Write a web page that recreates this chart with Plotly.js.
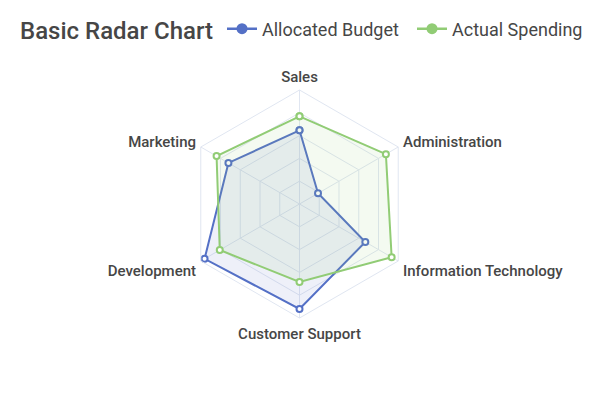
<!DOCTYPE html>
<html><head><meta charset="utf-8">
<script src="https://cdn.plot.ly/plotly-3.0.1.min.js"></script>
<style>body{margin:0}#c{width:600px;height:400px}</style>
</head><body><div id="c"></div>
<script>
const indicators = ['Sales','Administration','Information Technology','Customer Support','Development','Marketing'];
const maxValues = [6500, 16000, 30000, 38000, 52000, 25000];
const allocated = [4200, 3000, 20000, 35000, 50000, 18000];
const actual = [5000, 14000, 28000, 26000, 42000, 21000];
const seriesNames = ['Allocated Budget', 'Actual Spending'];
const colors = ['#5470c6', '#91cc75'];
const fills = ['rgba(84,112,198,0.1)', 'rgba(145,204,117,0.1)'];

function norm(v){ return v.map((x,i)=>x/maxValues[i]); }
function closed(a){ return a.concat([a[0]]); }

const traces = [];
[allocated, actual].forEach((d, k) => {
  traces.push({
    type:'scatterpolar', r: closed(norm(d)), theta: closed(indicators),
    mode:'lines+markers', fill:'toself', fillcolor: fills[k],
    line:{color:colors[k], width:2},
    marker:{symbol:'circle', size:6, color:'#fff', line:{color:colors[k], width:2}},
    name: seriesNames[k], showlegend:false, hoverinfo:'skip'
  });
});
[0,1].forEach(k => {
  traces.push({
    type:'scatterpolar', r:[null], theta:[indicators[0]],
    mode:'lines+markers', line:{color:colors[k], width:2.5},
    marker:{symbol:'circle', size:11, color:colors[k]},
    name: seriesNames[k], showlegend:true
  });
});

const layout = {
  width:600, height:400,
  margin:{l:0,r:0,t:0,b:0, autoexpand:false},
  paper_bgcolor:'#fff',
  font:{family:'Roboto, sans-serif', color:'#464646'},
  title:{text:'Basic Radar Chart', x:20/600, xanchor:'left', y:1-31/400, yanchor:'middle',
         font:{size:24, color:'#464646', family:'Roboto', weight:500}},
  showlegend:true,
  legend:{orientation:'h', x:222/600, xanchor:'left', y:1-29/400, yanchor:'middle',
          font:{size:18, color:'#464646'}, itemwidth:30, tracegroupgap:0,
          entrywidth:145, entrywidthmode:'pixels'},
  polar:{
    domain:{x:[(299.5-114)/600,(299.5+114)/600], y:[(196-114)/400,(196+114)/400]},
    gridshape:'linear', bgcolor:'rgba(0,0,0,0)',
    radialaxis:{range:[0,1], dtick:0.2, showticklabels:false, ticks:'', showline:false,
                gridcolor:'#E0E6F1', gridwidth:1},
    angularaxis:{direction:'clockwise', rotation:90, categoryorder:'array', categoryarray:indicators,
                 linecolor:'#E0E6F1', gridcolor:'#E0E6F1', ticks:'outside', ticklen:2, tickcolor:'rgba(0,0,0,0)',
                 tickfont:{size:15, color:'#464646', family:'Roboto', weight:500}}
  }
};
Plotly.newPlot('c', traces, layout, {displayModeBar:false, staticPlot:true});
</script></body></html>
